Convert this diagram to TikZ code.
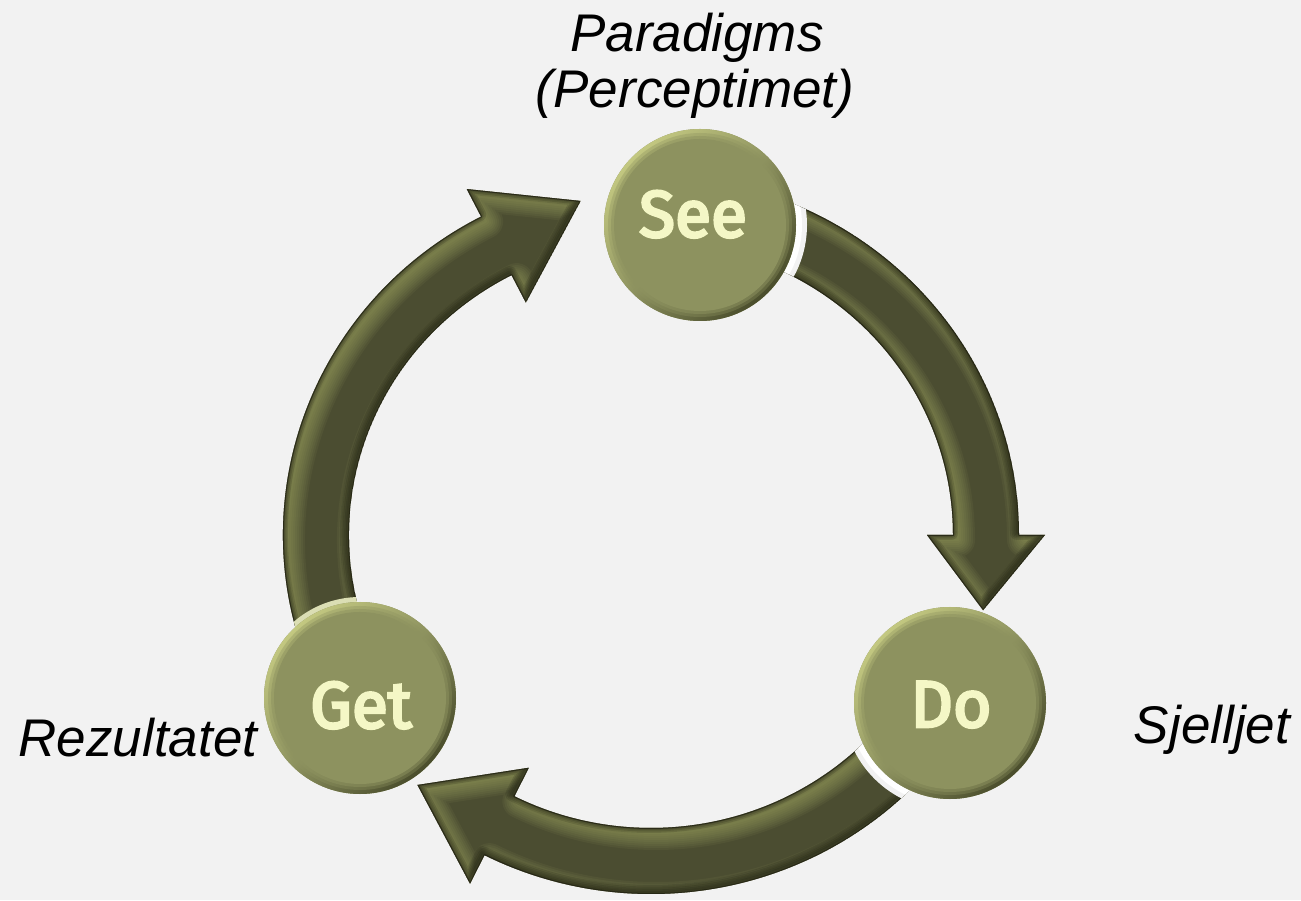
\documentclass[tikz,border=0pt]{standalone}
\usepackage{fontspec}
\setmainfont{Liberation Sans}
\newfontfamily\circfont[FakeBold=4]{Fira Sans}
\definecolor{bg}{HTML}{F2F2F2}
\definecolor{arrbase}{HTML}{4B4D31}
\definecolor{arrlight}{HTML}{A3A964}
\definecolor{arrshadow}{HTML}{101008}
\definecolor{circmid}{HTML}{8D925F}
\definecolor{circlight}{HTML}{C3C881}
\definecolor{circdark}{HTML}{4A4D2C}
\definecolor{circtext}{HTML}{F4F7C6}
\newcommand\arrowpath[9]{(#1:368pt and 359pt) arc[start angle=#1,end angle=#2,x radius=368,y radius=359] -- (#2:#4 and #5) -- (#3:#8 and #9) -- (#2:#6 and #7) -- (#2:302pt and 293pt) arc[start angle=#2,end angle=#1,x radius=302,y radius=293] -- cycle}
\newcommand\bevelarrow[9]{%
  \begin{scope}
    \clip \arrowpath{#1}{#2}{#3}{#4}{#5}{#6}{#7}{#8}{#9};
    \fill[arrbase] \arrowpath{#1}{#2}{#3}{#4}{#5}{#6}{#7}{#8}{#9};
    \foreach \w in {34,30,...,2} {
      \draw[arrlight, line width=\w, opacity=0.085, line join=round, shift={(5,-5)}] \arrowpath{#1}{#2}{#3}{#4}{#5}{#6}{#7}{#8}{#9};
    }
    \foreach \w in {14,11,...,2} {
      \draw[arrshadow, line width=\w, opacity=0.14, line join=round, shift={(-2,2)}] \arrowpath{#1}{#2}{#3}{#4}{#5}{#6}{#7}{#8}{#9};
    }
    \draw[arrshadow, line width=2, opacity=0.5, line join=round] \arrowpath{#1}{#2}{#3}{#4}{#5}{#6}{#7}{#8}{#9};
  \end{scope}}
\newcommand\circshade[1]{%
  \shade[top color=circlight, bottom color=circdark, middle color=circmid, shading angle=45] (#1.center) circle (96);
  \fill[circmid, opacity=0.35] (#1.center) circle (92);
  \fill[circmid, opacity=0.5] (#1.center) circle (89);
  \fill[circmid] (#1.center) circle (86);
}
\tikzset{
  cyclenode/.style={circle, minimum size=192pt, inner sep=0pt, fill=circmid},
  circlabel/.style={inner sep=0pt, text=circtext, font=\circfont\fontsize{66}{70}\selectfont},
  lbl/.style={inner sep=0pt, text=black, font=\fontsize{53}{60}\selectfont\itshape}
}
\begin{document}
\begin{tikzpicture}[x=1pt,y=1pt]
\useasboundingbox (0,0) rectangle (1301,900);
\fill[bg] (0,0) rectangle (1301,900);
\coordinate (pSee) at (700,675);
\coordinate (pDo) at (950,197);
\coordinate (pGet) at (360,202);
\begin{scope}[shift={(651,365)}]
  \bevelarrow{85}{0}{-13.1}{394pt}{385pt}{276pt}{267pt}{341pt}{332pt}
  \bevelarrow{-25}{-116.9}{-132.3}{400pt}{391pt}{270pt}{261pt}{347pt}{338pt}
  \bevelarrow{200}{117.5}{101.6}{399pt}{390pt}{271pt}{262pt}{350pt}{341pt}
  \begin{scope}
    \clip \arrowpath{85}{0}{-13.1}{394pt}{385pt}{276pt}{267pt}{341pt}{332pt};
    \fill[bg] (pSee) circle (107);
    \fill[white] (pSee) circle (102);
  \end{scope}
  \begin{scope}
    \clip \arrowpath{-25}{-116.9}{-132.3}{400pt}{391pt}{270pt}{261pt}{347pt}{338pt};
    \fill[bg] (pDo) circle (107);
    \fill[white] (pDo) circle (102);
  \end{scope}
  \begin{scope}
    \clip \arrowpath{200}{117.5}{101.6}{399pt}{390pt}{271pt}{262pt}{350pt}{341pt};
    \fill[circlight!60!white] (pGet) circle (101);
  \end{scope}
\end{scope}
\node[cyclenode] (See) at (pSee) {};
\circshade{See}
\node[cyclenode] (Do) at (pDo) {};
\circshade{Do}
\node[cyclenode] (Get) at (pGet) {};
\circshade{Get}
\node[circlabel, anchor=base] (SeeT) at (693,663) {See};
\node[circlabel, anchor=base] (DoT) at (951,173) {Do};
\node[circlabel, anchor=base] (GetT) at (361,172) {Get};
\node[lbl, anchor=base] (par1) at (697,848) {Paradigms};
\node[lbl, anchor=base] (par2) at (695,792) {(Perceptimet)};
\node[lbl, anchor=base] (rez) at (138,143) {Rezultatet};
\node[lbl, anchor=base] (sje) at (1212,157) {Sjelljet};
\end{tikzpicture}
\end{document}
